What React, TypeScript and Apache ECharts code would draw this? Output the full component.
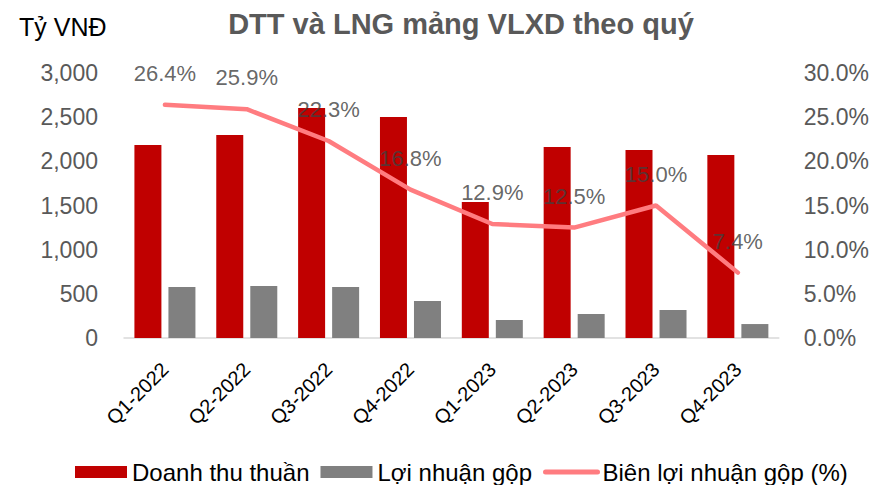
import React, { useEffect, useRef } from "react";
import * as echarts from "echarts";

const categories = ["Q1-2022", "Q2-2022", "Q3-2022", "Q4-2022", "Q1-2023", "Q2-2023", "Q3-2023", "Q4-2023"];
const revenue = [2185, 2298, 2604, 2502, 1540, 2162, 2128, 2072];
const grossProfit = [577, 589, 577, 419, 204, 272, 317, 158];
const grossMargin = [26.4, 25.9, 22.3, 16.8, 12.9, 12.5, 15.0, 7.4];

const FONT = "Liberation Sans, Arial, sans-serif";

export default function App() {
  const ref = useRef<HTMLDivElement>(null);
  useEffect(() => {
    if (!ref.current) return;
    const chart = echarts.init(ref.current, undefined, { renderer: "svg" });
    chart.setOption({
      animation: false,
      textStyle: { fontFamily: FONT },
      title: {
        text: "DTT và LNG mảng VLXD theo quý",
        left: 456,
        top: 4,
        textAlign: "center",
        textStyle: { fontSize: 29, fontWeight: "bold", color: "#595959", fontFamily: FONT },
      },
      graphic: [
        {
          type: "text",
          left: 19,
          top: 14,
          style: { text: "Tỷ VNĐ", fontSize: 25, fill: "#000", fontFamily: FONT },
        },
      ],
      legend: {
        left: 75,
        top: 460,
        padding: 0,
        itemWidth: 52,
        itemHeight: 12,
        itemGap: 11,
        textStyle: { fontSize: 24, lineHeight: 24, color: "#000", fontFamily: FONT },
        data: [
          { name: "Doanh thu thuần", icon: "rect" },
          { name: "Lợi nhuận gộp", icon: "rect" },
          {
            name: "Biên lợi nhuận gộp (%)",
            itemStyle: { opacity: 0 },
            lineStyle: { width: 5, cap: "round", color: "#FF7C80" },
          },
        ],
      },
      grid: { left: 124, right: 93, top: 73, bottom: 147 },
      xAxis: {
        type: "category",
        data: categories,
        axisLine: { lineStyle: { color: "#d9d9d9", width: 1.5 } },
        axisTick: { show: false },
        axisLabel: { rotate: 45, color: "#000", fontSize: 20, margin: 28, fontFamily: FONT },
      },
      yAxis: [
        {
          type: "value",
          min: 0,
          max: 3000,
          interval: 500,
          splitLine: { show: false },
          axisLine: { show: false },
          axisLabel: {
            color: "#595959",
            fontSize: 23,
            margin: 26,
            fontFamily: FONT,
            formatter: (v: number) => v.toLocaleString("en-US"),
          },
        },
        {
          type: "value",
          min: 0,
          max: 30,
          interval: 5,
          splitLine: { show: false },
          axisLine: { show: false },
          axisLabel: {
            color: "#595959",
            fontSize: 23,
            margin: 25,
            fontFamily: FONT,
            formatter: (v: number) => v.toFixed(1) + "%",
          },
        },
      ],
      series: [
        {
          name: "Doanh thu thuần",
          type: "bar",
          data: revenue,
          barWidth: 27,
          barGap: "26%",
          itemStyle: { color: "#C00000" },
        },
        {
          name: "Lợi nhuận gộp",
          type: "bar",
          data: grossProfit,
          barWidth: 27,
          itemStyle: { color: "#808080" },
        },
        {
          name: "Biên lợi nhuận gộp (%)",
          type: "line",
          yAxisIndex: 1,
          data: grossMargin,
          symbol: "none",
          lineStyle: { color: "#FF7C80", width: 4.5, cap: "round" },
          itemStyle: { color: "#FF7C80" },
        },
        {
          name: "margin-labels",
          type: "scatter",
          yAxisIndex: 1,
          data: grossMargin,
          symbolSize: 1,
          itemStyle: { color: "rgba(0,0,0,0)" },
          z: 5,
          label: {
            show: true,
            position: "top",
            distance: 20,
            color: "#404040",
            fontSize: 22,
            fontFamily: FONT,
            formatter: (p: any) => p.value.toFixed(1) + "%",
          },
        },
      ],
    });
    return () => chart.dispose();
  }, []);
  return <div ref={ref} style={{ width: 872, height: 485, position: "absolute", left: 0, top: 0 }} />;
}
